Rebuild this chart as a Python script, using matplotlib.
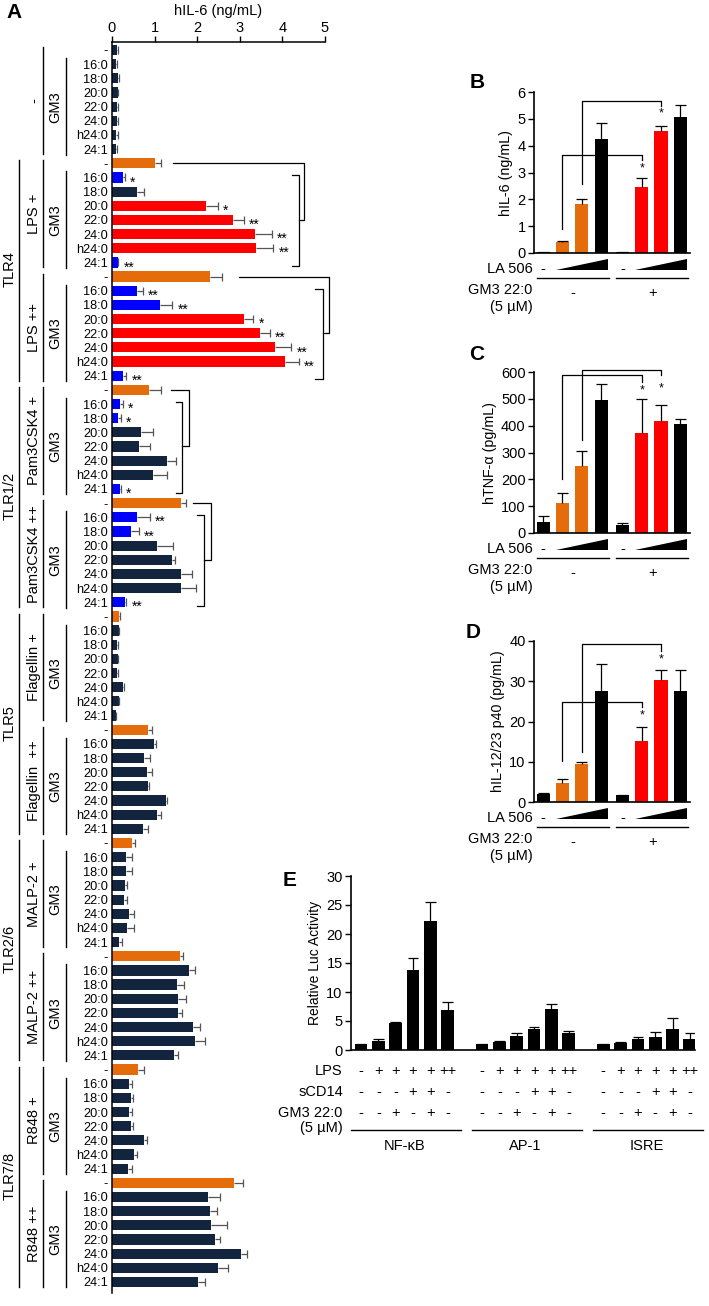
import numpy as np
import matplotlib
matplotlib.use('Agg')
import matplotlib.pyplot as plt
import matplotlib.transforms as mtransforms
from matplotlib.patches import Polygon

plt.rcParams['font.family'] = ['Liberation Sans', 'DejaVu Sans']

W, H = 709, 1306
NAVY = '#13253e'
ORANGE = '#e46c0a'
RED = '#ff0000'
BLUE = '#0000ff'
ERR_GRAY = '#555555'

# ---- panel A data (hIL-6, ng/mL) ----
lipids = ['-', '16:0', '18:0', '20:0', '22:0', '24:0', 'h24:0', '24:1']
stimuli = ['-', 'LPS +', 'LPS ++', 'Pam3CSK4 +', 'Pam3CSK4 ++', 'Flagellin +',
           'Flagellin  ++', 'MALP-2 +', 'MALP-2 ++', 'R848 +', 'R848 ++']
tlr_labels = ['TLR4', 'TLR1/2', 'TLR5', 'TLR2/6', 'TLR7/8']
tlr_groups = [(1, 2), (3, 4), (5, 6), (7, 8), (9, 10)]

il6_none = [0.12, 0.10, 0.15, 0.13, 0.12, 0.11, 0.10, 0.10]
il6_lps1 = [1.02, 0.26, 0.58, 2.20, 2.83, 3.36, 3.37, 0.13]
il6_lps2 = [2.30, 0.59, 1.13, 3.10, 3.48, 3.82, 4.06, 0.26]
il6_pam1 = [0.87, 0.18, 0.14, 0.67, 0.63, 1.29, 0.96, 0.18]
il6_pam2 = [1.62, 0.59, 0.45, 1.05, 1.40, 1.63, 1.62, 0.31]
il6_flag1 = [0.17, 0.16, 0.12, 0.14, 0.12, 0.25, 0.16, 0.09]
il6_flag2 = [0.84, 0.99, 0.75, 0.82, 0.84, 1.26, 1.06, 0.72]
il6_malp1 = [0.48, 0.33, 0.33, 0.30, 0.29, 0.41, 0.35, 0.17]
il6_malp2 = [1.60, 1.81, 1.52, 1.56, 1.56, 1.90, 1.95, 1.46]
il6_r848_1 = [0.62, 0.40, 0.44, 0.40, 0.44, 0.75, 0.52, 0.37]
il6_r848_2 = [2.87, 2.25, 2.29, 2.32, 2.41, 3.02, 2.49, 2.02]

err_none = [0.01, 0.01, 0.01, 0.01, 0.01, 0.03, 0.03, 0.01]
err_lps1 = [0.12, 0.04, 0.16, 0.29, 0.27, 0.40, 0.42, 0.02]
err_lps2 = [0.28, 0.13, 0.29, 0.22, 0.22, 0.39, 0.32, 0.08]
err_pam1 = [0.27, 0.08, 0.06, 0.30, 0.27, 0.22, 0.32, 0.02]
err_pam2 = [0.11, 0.30, 0.18, 0.38, 0.07, 0.24, 0.35, 0.03]
err_flag1 = [0.02, 0.01, 0.01, 0.01, 0.01, 0.03, 0.01, 0.01]
err_flag2 = [0.11, 0.05, 0.14, 0.13, 0.04, 0.04, 0.09, 0.13]
err_malp1 = [0.06, 0.15, 0.14, 0.05, 0.06, 0.10, 0.16, 0.06]
err_malp2 = [0.06, 0.14, 0.17, 0.18, 0.09, 0.17, 0.24, 0.08]
err_r848_1 = [0.14, 0.06, 0.05, 0.08, 0.05, 0.08, 0.06, 0.09]
err_r848_2 = [0.20, 0.29, 0.18, 0.38, 0.13, 0.15, 0.23, 0.16]

# n = navy, o = orange, r = red, b = blue
color_codes = ['nnnnnnnn', 'obnrrrrb', 'obbrrrrb', 'obbnnnnb', 'obbnnnnb',
               'onnnnnnn', 'onnnnnnn', 'onnnnnnn', 'onnnnnnn', 'onnnnnnn', 'onnnnnnn']
stars_a = {1: ['', '*', '', '*', '**', '**', '**', '**'],
           2: ['', '**', '**', '*', '**', '**', '**', '**'],
           3: ['', '*', '*', '', '', '', '', '*'],
           4: ['', '**', '**', '', '', '', '', '**']}

# ---- panels B-D ----
bd_colors = ['black', ORANGE, ORANGE, 'black', 'black', RED, RED, 'black']
il6_b = [0.05, 0.42, 1.84, 4.25, 0.05, 2.45, 4.53, 5.07]
il6_b_err = [0.0, 0.02, 0.16, 0.58, 0.0, 0.33, 0.22, 0.46]
tnf_c = [41, 113, 251, 494, 29, 371, 419, 407]
tnf_c_err = [22, 36, 56, 62, 8, 129, 59, 19]
il12_d = [2.1, 4.7, 9.5, 27.7, 1.7, 15.1, 30.4, 27.5]
il12_d_err = [0.2, 1.1, 0.4, 6.5, 0.1, 3.5, 2.3, 5.2]

# ---- panel E ----
luc_nfkb = [1.03, 1.6, 4.7, 13.8, 22.3, 6.84]
luc_nfkb_err = [0.05, 0.3, 0.1, 2.0, 3.3, 1.36]
luc_ap1 = [1.03, 1.44, 2.47, 3.56, 7.0, 2.87]
luc_ap1_err = [0.05, 0.16, 0.4, 0.44, 0.87, 0.43]
luc_isre = [1.03, 1.15, 1.95, 2.24, 3.62, 1.95]
luc_isre_err = [0.05, 0.23, 0.35, 0.81, 1.88, 0.92]
reporters = ['NF-κB', 'AP-1', 'ISRE']
lps_row = ['-', '+', '+', '+', '+', '++']
scd14_row = ['-', '-', '-', '+', '+', '-']
gm3_row = ['-', '-', '+', '-', '+', '-']

FS = 10.5


def rect(l, t, r, b):
    return [l / W, 1 - b / H, (r - l) / W, (b - t) / H]


def vbars(ax, pos, vals, errs, width, colors, ecolor, lw=0.9):
    pos = np.asarray(pos, float)
    vals = np.asarray(vals, float)
    errs = np.asarray(errs, float)
    ax.bar(pos, vals, width=width, color=colors)
    ax.vlines(pos, vals, vals + errs, color=ecolor, lw=lw)
    ax.hlines(vals + errs, pos - width * 0.42, pos + width * 0.42, color=ecolor, lw=lw)


fig = plt.figure(figsize=(W / 100, H / 100), dpi=100)

# =============== panel A ===============
axA = fig.add_axes(rect(112, 42, 325, 1293))
vals = np.concatenate([il6_none, il6_lps1, il6_lps2, il6_pam1, il6_pam2, il6_flag1,
                       il6_flag2, il6_malp1, il6_malp2, il6_r848_1, il6_r848_2])
errs = np.concatenate([err_none, err_lps1, err_lps2, err_pam1, err_pam2, err_flag1,
                       err_flag2, err_malp1, err_malp2, err_r848_1, err_r848_2])
rows = np.arange(len(vals))
cmap = {'n': NAVY, 'o': ORANGE, 'r': RED, 'b': BLUE}
colors = [cmap[c] for c in ''.join(color_codes)]
axA.barh(rows, vals, height=0.72, color=colors)
axA.hlines(rows, vals, vals + errs, color=ERR_GRAY, lw=0.9)
axA.vlines(vals + errs, rows - 0.28, rows + 0.28, color=ERR_GRAY, lw=0.9)

for g, marks in stars_a.items():
    for i, s in enumerate(marks):
        if s:
            r = g * 8 + i
            axA.text(vals[r] + errs[r] + 0.12, r + 0.35, s, fontsize=10, va='center', ha='left')

axA.set_xlim(0, 5)
axA.set_ylim(87.78, -0.565)
axA.xaxis.tick_top()
axA.xaxis.set_label_position('top')
axA.set_xticks(range(6))
axA.set_xlabel('hIL-6 (ng/mL)', fontsize=FS, labelpad=4)
axA.tick_params(axis='x', direction='out', length=4, width=1, labelsize=FS, pad=1)
axA.set_yticks(rows)
axA.set_yticklabels(lipids * len(stimuli))
axA.tick_params(axis='y', length=0, pad=3, labelsize=9.2)
for s in ['bottom', 'right']:
    axA.spines[s].set_visible(False)
for s in ['top', 'left']:
    axA.spines[s].set_linewidth(1.1)

transA = mtransforms.blended_transform_factory(axA.transAxes, axA.transData)


def fx(px):
    return (px - 112) / 213.0


for g, stim in enumerate(stimuli):
    r0 = g * 8
    axA.plot([fx(66), fx(66)], [r0 + 0.58, r0 + 7.38], color='black', lw=1, transform=transA, clip_on=False)
    axA.text(fx(55), r0 + 4.0, 'GM3', rotation=90, ha='center', va='center', fontsize=FS, transform=transA)
    axA.plot([fx(43), fx(43)], [r0 - 0.2, r0 + 7.35], color='black', lw=1, transform=transA, clip_on=False)
    axA.text(fx(34), r0 + 3.6, stim, rotation=90, ha='center', va='center', fontsize=FS, transform=transA)

for lab, (g0, g1) in zip(tlr_labels, tlr_groups):
    axA.plot([fx(19), fx(19)], [g0 * 8 - 0.2, g1 * 8 + 7.35], color='black', lw=1, transform=transA, clip_on=False)
    axA.text(fx(10), (g0 * 8 + g1 * 8 + 7) / 2, lab, rotation=90, ha='center', va='center', fontsize=FS,
             transform=transA)

# brackets: control row, start x, outer x, inner x, inner tick x
brackets_a = [(8, 1.43, 4.50, 4.39, 4.22),
              (16, 2.98, 5.09, 4.95, 4.77),
              (24, 1.38, 1.81, 1.64, 1.50),
              (32, 1.90, 2.32, 2.16, 2.00)]
for r0, x0, xo, xi, xt in brackets_a:
    mid = r0 + 4
    axA.plot([x0, xo, xo, xi], [r0, r0, mid, mid], color='black', lw=0.9, clip_on=False)
    axA.plot([xt, xi, xi, xt], [r0 + 0.85, r0 + 0.85, r0 + 7.25, r0 + 7.25], color='black', lw=0.9,
             clip_on=False)

fig.text(14 / W, 1 - 13 / H, 'A', fontsize=15, fontweight='bold', ha='center', va='center')

# =============== panels B-D ===============
pos_bd = np.r_[np.arange(4), np.arange(4) + 4.1]


def cyto_panel(top, bottom, vals, errs, ymax, ystep, ylabel, brackets, letter, letter_xy):
    ax = fig.add_axes(rect(534, top, 690, bottom))
    vbars(ax, pos_bd, vals, errs, 0.68, bd_colors, 'black')
    ax.set_xlim(-0.47, 7.6)
    ax.set_ylim(0, ymax)
    ax.set_yticks(np.arange(0, ymax + ystep / 2, ystep))
    ax.set_xticks([])
    ax.set_ylabel(ylabel, fontsize=10.3, labelpad=3)
    ax.tick_params(axis='y', direction='out', length=4, width=1, labelsize=FS, pad=2)
    for s in ['top', 'right']:
        ax.spines[s].set_visible(False)
    for s in ['bottom', 'left']:
        ax.spines[s].set_linewidth(1.2)
    for i0, y0, ytop, i1, y1, ystar in brackets:
        ax.plot([pos_bd[i0], pos_bd[i0], pos_bd[i1], pos_bd[i1]], [y0, ytop, ytop, y1],
                color='black', lw=0.9, clip_on=False)
        ax.text(pos_bd[i1], ystar, '*', ha='center', va='center', fontsize=9)
    # annotation rows under the axis
    hpx = bottom - top
    tr = mtransforms.blended_transform_factory(ax.transData, ax.transAxes)

    def fy(d):
        return -d / hpx

    ax.text(-0.55, fy(16), 'LA 506', ha='right', va='center', fontsize=FS, transform=tr)
    for i in (0, 4):
        ax.text(pos_bd[i], fy(16), '-', ha='center', va='center', fontsize=FS, transform=tr)
    for a, b in ((1, 3), (5, 7)):
        xa, xb = pos_bd[a] - 0.34, pos_bd[b] + 0.34
        ax.add_patch(Polygon([(xa, fy(17)), (xb, fy(17)), (xb, fy(6))], closed=True,
                             facecolor='black', edgecolor='none', transform=tr, clip_on=False))
    for a, b in ((0, 3), (4, 7)):
        ax.plot([pos_bd[a] - 0.33, pos_bd[b] + 0.42], [fy(25), fy(25)], color='black', lw=1,
                transform=tr, clip_on=False)
    ax.text(-0.55, fy(37), 'GM3 22:0', ha='right', va='center', fontsize=FS, transform=tr)
    ax.text(-0.55, fy(54), '(5 µM)', ha='right', va='center', fontsize=FS, transform=tr)
    ax.text(pos_bd[:4].mean() + 0.05, fy(40), '-', ha='center', va='center', fontsize=FS, transform=tr)
    ax.text(pos_bd[4:].mean() + 0.05, fy(40), '+', ha='center', va='center', fontsize=FS, transform=tr)
    fig.text(letter_xy[0] / W, 1 - letter_xy[1] / H, letter, fontsize=15, fontweight='bold',
             ha='center', va='center')
    return ax


cyto_panel(92, 253, il6_b, il6_b_err, 6, 1, 'hIL-6 (ng/mL)',
           [(1, 0.9, 3.64, 5, 3.45, 3.14), (2, 2.58, 5.66, 6, 5.48, 5.19)], 'B', (477, 82))
cyto_panel(372, 533, tnf_c, tnf_c_err, 600, 100, 'hTNF-α (pg/mL)',
           [(1, 202, 588, 5, 563, 532), (2, 345, 606, 6, 588, 538)], 'C', (477, 354))
cyto_panel(641, 802, il12_d, il12_d_err, 40, 10, 'hIL-12/23 p40 (pg/mL)',
           [(1, 10.3, 24.8, 5, 23.6, 21.5), (2, 12.4, 39.3, 6, 37.5, 35.3)], 'D', (473, 632))

# =============== panel E ===============
axE = fig.add_axes(rect(351, 876, 695, 1050))
pos_e = np.r_[np.arange(6), np.arange(6) + 7, np.arange(6) + 14]
vbars(axE, pos_e, luc_nfkb + luc_ap1 + luc_isre, luc_nfkb_err + luc_ap1_err + luc_isre_err,
      0.73, 'black', 'black')
axE.set_xlim(-0.58, 19.3)
axE.set_ylim(0, 30)
axE.set_yticks(range(0, 31, 5))
axE.set_xticks([])
axE.set_ylabel('Relative Luc Activity', fontsize=10, labelpad=3)
axE.tick_params(axis='y', direction='out', length=4, width=1, labelsize=FS, pad=2)
for s in ['top', 'right']:
    axE.spines[s].set_visible(False)
for s in ['bottom', 'left']:
    axE.spines[s].set_linewidth(1.2)

trE = mtransforms.blended_transform_factory(axE.transData, axE.transAxes)
hE = 1050 - 876
for lab, row, d in (('LPS', lps_row, 21), ('sCD14', scd14_row, 42), ('GM3 22:0', gm3_row, 63)):
    axE.text(-1.05, -d / hE, lab, ha='right', va='center', fontsize=FS, transform=trE)
    for k in range(3):
        for i, s in enumerate(row):
            axE.text(pos_e[k * 6 + i], -d / hE, s, ha='center', va='center', fontsize=FS, transform=trE)
axE.text(-1.05, -78 / hE, '(5 µM)', ha='right', va='center', fontsize=FS, transform=trE)
for k, name in enumerate(reporters):
    seg = pos_e[k * 6:(k + 1) * 6]
    axE.plot([seg[0] - 0.6, seg[-1] + 0.75], [-80 / hE, -80 / hE], color='black', lw=1,
             transform=trE, clip_on=False)
    axE.text(seg.mean(), -96 / hE, name, ha='center', va='center', fontsize=FS, transform=trE)

fig.text(290 / W, 1 - 880 / H, 'E', fontsize=15, fontweight='bold', ha='center', va='center')

fig.savefig('out.png', dpi=100)
